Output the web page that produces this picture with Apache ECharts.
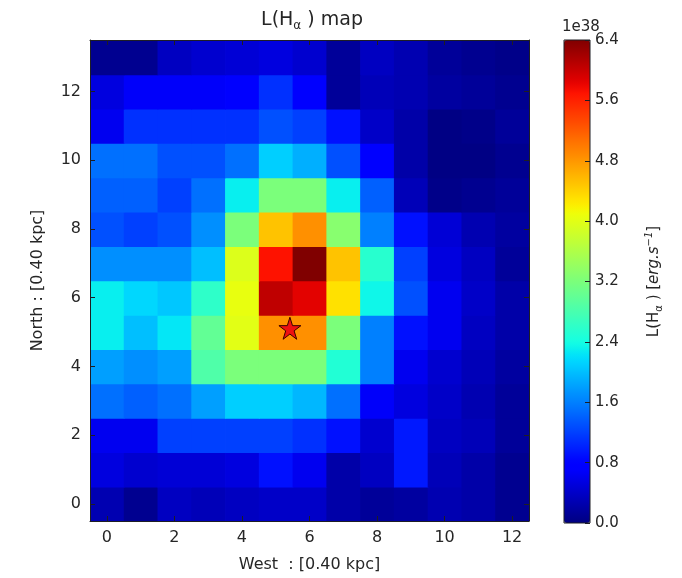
<!DOCTYPE html>
<html>
<head>
<meta charset="utf-8">
<script src="https://cdn.jsdelivr.net/npm/echarts@6/dist/echarts.min.js"></script>
<style>
  html, body { margin: 0; padding: 0; background: #ffffff; }
  #chart { width: 682px; height: 578px; }
</style>
</head>
<body>
<div id="chart"></div>
<script>
// Grid cell labels (pixel indices, 0.40 kpc each)
const westCats = ['0','1','2','3','4','5','6','7','8','9','10','11','12'];
const northCats = ['0','1','2','3','4','5','6','7','8','9','10','11','12','13'];

// L(H-alpha) per spaxel in units of 1e38 erg/s, one array per row (North index), West 0..12
const lumRow0  = [0.27, 0.09, 0.36, 0.31, 0.36, 0.40, 0.40, 0.22, 0.14, 0.18, 0.27, 0.22, 0.09];
const lumRow1  = [0.53, 0.44, 0.48, 0.48, 0.53, 0.90, 0.62, 0.22, 0.36, 0.95, 0.31, 0.22, 0.09];
const lumRow2  = [0.62, 0.62, 1.20, 1.20, 1.20, 1.20, 1.10, 0.90, 0.44, 0.95, 0.36, 0.31, 0.14];
const lumRow3  = [1.50, 1.40, 1.50, 1.80, 2.10, 2.10, 1.95, 1.50, 0.68, 0.53, 0.40, 0.27, 0.14];
const lumRow4  = [1.80, 1.70, 1.80, 2.85, 3.20, 3.20, 3.20, 2.50, 1.60, 0.62, 0.44, 0.31, 0.18];
const lumRow5  = [2.30, 2.00, 2.25, 3.00, 4.00, 4.85, 4.85, 3.20, 1.60, 0.90, 0.62, 0.36, 0.22];
const lumRow6  = [2.30, 2.15, 2.05, 2.60, 4.05, 6.05, 5.85, 4.30, 2.35, 1.30, 0.62, 0.40, 0.22];
const lumRow7  = [1.70, 1.70, 1.70, 2.00, 3.95, 5.70, 6.40, 4.50, 2.55, 1.20, 0.53, 0.36, 0.14];
const lumRow8  = [1.30, 1.20, 1.30, 1.70, 3.20, 4.50, 4.85, 3.30, 1.60, 0.90, 0.48, 0.27, 0.18];
const lumRow9  = [1.40, 1.40, 1.20, 1.50, 2.30, 3.20, 3.20, 2.30, 1.40, 0.31, 0.05, 0.09, 0.14];
const lumRow10 = [1.50, 1.50, 1.30, 1.30, 1.50, 2.10, 1.90, 1.30, 0.75, 0.22, 0.02, 0.02, 0.09];
const lumRow11 = [0.62, 1.10, 1.10, 1.10, 1.10, 1.30, 1.20, 0.90, 0.40, 0.22, 0.02, 0.05, 0.14];
const lumRow12 = [0.53, 0.68, 0.68, 0.68, 0.80, 1.10, 0.80, 0.14, 0.31, 0.27, 0.18, 0.14, 0.09];
const lumRow13 = [0.09, 0.09, 0.36, 0.44, 0.48, 0.53, 0.44, 0.14, 0.36, 0.27, 0.14, 0.09, 0.05];

// Position of the marked source (West, North) in pixel units
const starPos = [5.42, 5.11];

// Colour bar range and tick step (1e38 erg/s)
const cbarMin = 0.0;
const cbarMax = 6.4;
const cbarStep = 0.8;
const cbarExponent = '1e38';

const lumRows = [lumRow0, lumRow1, lumRow2, lumRow3, lumRow4, lumRow5, lumRow6,
                 lumRow7, lumRow8, lumRow9, lumRow10, lumRow11, lumRow12, lumRow13];
const cells = [];
lumRows.forEach((row, j) => row.forEach((v, i) => cells.push([i, j, v])));

// matplotlib "jet" colour map, sampled into a stop list for visualMap
function jetColor(t) {
  const seg = (pts) => {
    for (let k = 1; k < pts.length; k++) {
      if (t <= pts[k][0]) {
        const [x0, y0] = pts[k - 1], [x1, y1] = pts[k];
        return y0 + (y1 - y0) * (t - x0) / (x1 - x0);
      }
    }
    return pts[pts.length - 1][1];
  };
  const r = seg([[0, 0], [0.35, 0], [0.66, 1], [0.89, 1], [1, 0.5]]);
  const g = seg([[0, 0], [0.125, 0], [0.375, 1], [0.64, 1], [0.91, 0], [1, 0]]);
  const b = seg([[0, 0.5], [0.11, 1], [0.34, 1], [0.65, 0], [1, 0]]);
  return 'rgb(' + [r, g, b].map(v => Math.round(v * 255)).join(',') + ')';
}
const jetStops = [];
for (let k = 0; k <= 64; k++) jetStops.push(jetColor(k / 64));

const FONT = 'DejaVu Sans';
const TXT = '#262626';
const LINE = '#1e1e24';

const chart = echarts.init(document.getElementById('chart'), null, { renderer: 'canvas' });

const tickInside = { show: true, inside: true, length: 5, alignWithLabel: true, interval: 1,
                     lineStyle: { color: LINE, width: 1 } };
const frameLine = { show: true, onZero: false, lineStyle: { color: LINE, width: 1 } };

// one filled square per spaxel, sized from the category bands
function renderCell(params, api) {
  const c = api.coord([api.value(0), api.value(1)]);
  const s = api.size([1, 1]);
  return {
    type: 'rect',
    shape: { x: c[0] - s[0] / 2, y: c[1] - s[1] / 2, width: s[0] + 0.8, height: s[1] + 0.8 },
    style: { fill: api.visual('color') }
  };
}

chart.setOption({
  animation: false,
  backgroundColor: '#ffffff',
  title: [
    {
      text: '{a|L(H}{b|α}{a| ) map}',
      left: 312, top: 8, textAlign: 'center', padding: 0,
      textStyle: {
        fontWeight: 'normal',
        rich: {
          a: { fontFamily: FONT, fontSize: 19, fontWeight: 'normal', color: TXT },
          b: { fontFamily: FONT, fontSize: 12, fontWeight: 'normal', color: TXT, padding: [12, 0, 0, 0] }
        }
      }
    },
    {
      text: cbarExponent,
      left: 562, top: 20, padding: 0,
      textStyle: { fontFamily: FONT, fontSize: 15, fontWeight: 'normal', color: TXT }
    }
  ],
  grid: [
    { left: 90, top: 40, width: 439, height: 483, show: false },
    { left: 564, top: 40, width: 26, height: 483, show: true, z: 10,
      backgroundColor: 'transparent', borderColor: LINE, borderWidth: 1 }
  ],
  xAxis: [
    {
      type: 'category', gridIndex: 0, data: westCats, position: 'bottom', z: 5,
      axisLine: frameLine,
      axisTick: tickInside,
      axisLabel: { interval: 1, color: TXT, fontFamily: FONT, fontSize: 16, margin: 9 },
      splitLine: { show: false },
      name: 'West  : [0.40 kpc]', nameLocation: 'middle', nameGap: 36,
      nameTextStyle: { fontFamily: FONT, fontSize: 16, color: TXT }
    },
    {
      type: 'category', gridIndex: 0, data: westCats, position: 'top', z: 5,
      axisLine: frameLine,
      axisTick: tickInside,
      axisLabel: { show: false },
      splitLine: { show: false }
    },
    { type: 'value', gridIndex: 0, min: -0.5, max: 12.5, show: false },
    { type: 'value', gridIndex: 1, min: 0, max: 1, show: false }
  ],
  yAxis: [
    {
      type: 'category', gridIndex: 0, data: northCats, position: 'left', z: 5,
      axisLine: frameLine,
      axisTick: tickInside,
      axisLabel: { interval: 1, color: TXT, fontFamily: FONT, fontSize: 16, margin: 9 },
      splitLine: { show: false },
      name: 'North : [0.40 kpc]', nameLocation: 'middle', nameGap: 44, nameRotate: 90,
      nameTextStyle: { fontFamily: FONT, fontSize: 16, color: TXT }
    },
    {
      type: 'category', gridIndex: 0, data: northCats, position: 'right', z: 5,
      axisLine: frameLine,
      axisTick: tickInside,
      axisLabel: { show: false },
      splitLine: { show: false }
    },
    { type: 'value', gridIndex: 0, min: -0.5, max: 13.5, show: false },
    {
      type: 'value', gridIndex: 1, min: cbarMin, max: cbarMax, interval: cbarStep,
      position: 'right', z: 12,
      axisLine: { show: false, onZero: false },
      axisTick: { show: true, inside: true, length: 5, lineStyle: { color: LINE, width: 1 } },
      axisLabel: { color: TXT, fontFamily: FONT, fontSize: 15, margin: 5,
                   formatter: v => v.toFixed(1) },
      splitLine: { show: false },
      name: '{a|L(H}{b|α}{a| ) [}{i|erg.s}{c|−1}{a|]}',
      nameLocation: 'middle', nameRotate: 90, nameGap: 54,
      nameTextStyle: {
        rich: {
          a: { fontFamily: FONT, fontSize: 15, color: TXT },
          b: { fontFamily: FONT, fontSize: 10, color: TXT, padding: [10, 0, 0, 0] },
          i: { fontFamily: FONT, fontSize: 15, fontStyle: 'italic', color: TXT },
          c: { fontFamily: FONT, fontSize: 10, fontStyle: 'italic', color: TXT, padding: [0, 0, 10, 0] }
        }
      }
    }
  ],
  visualMap: {
    type: 'continuous', seriesIndex: 0, dimension: 2, min: cbarMin, max: cbarMax,
    calculable: false, hoverLink: false, realtime: false,
    orient: 'vertical', left: 564, top: 40, padding: 0,
    itemWidth: 26, itemHeight: 483, text: null, showLabel: false,
    inRange: { color: jetStops }
  },
  series: [
    {
      type: 'custom', xAxisIndex: 0, yAxisIndex: 0, data: cells,
      encode: { x: 0, y: 1 }, renderItem: renderCell, clip: true, silent: true
    },
    {
      type: 'scatter', xAxisIndex: 2, yAxisIndex: 2, data: [starPos], z: 8,
      symbol: 'path://M50,2 L61.2,36.2 L97.6,36.2 L68.2,57.4 L79.4,91.6 L50,70.4 L20.6,91.6 L31.8,57.4 L2.4,36.2 L38.8,36.2 Z',
      symbolSize: 22,
      itemStyle: { color: '#ee1111', borderColor: '#3a0000', borderWidth: 1, opacity: 1 },
      silent: true
    }
  ]
});
</script>
</body>
</html>
